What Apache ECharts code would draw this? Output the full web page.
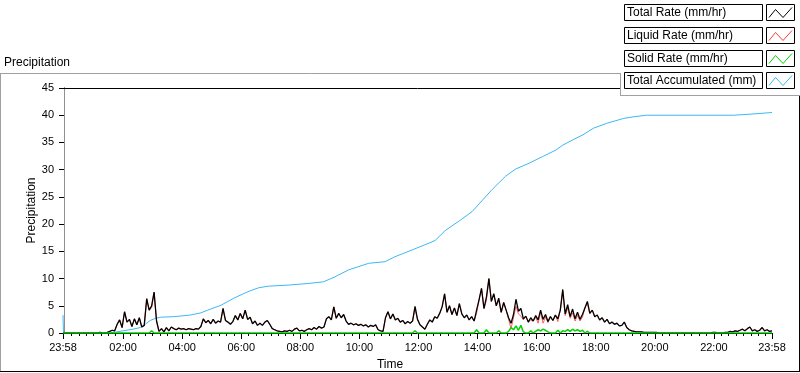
<!DOCTYPE html>
<html><head><meta charset="utf-8">
<script src="https://cdn.jsdelivr.net/npm/echarts@6/dist/echarts.min.js"></script>
<style>html,body{margin:0;padding:0;background:#fff}#c{width:800px;height:373px}</style>
</head><body><div id="c"></div>
<script>
// ---------- data ----------
const seriesNames = ['Total Rate (mm/hr)', 'Liquid Rate (mm/hr)', 'Solid Rate (mm/hr)', 'Total Accumulated (mm)'];
const seriesColors = ['#000000', '#ff3a3a', '#00d400', '#3db8f2'];

// x tick positions in minutes from midnight (start is 23:58 of the previous day)
const tickValues = [-2, 120, 240, 360, 480, 600, 720, 840, 960, 1080, 1200, 1320, 1438];
const tickLabels = ['23:58', '02:00', '04:00', '06:00', '08:00', '10:00', '12:00', '14:00', '16:00', '18:00', '20:00', '22:00', '23:58'];

// rates sampled every 5 minutes starting at 23:58 (one row per hour)
const totalRate = [
  0,0,0,0,0,0,0,0,0,0,0,0,
  0,0,0,0.1,0,0,0.1,0.3,0.5,0.4,1.6,2.4,
  1.0,3.9,2.0,2.5,1.2,2.6,1.5,2.8,1.1,1.4,6.3,4.2,
  5.0,7.5,2.2,0.3,0.8,0.2,1.0,0.4,1.1,0.8,0.6,0.9,
  0.7,0.8,0.6,0.8,0.7,0.6,0.8,0.7,1.2,2.6,1.9,2.3,
  1.7,2.5,1.8,2.2,2.0,4.5,2.3,2.0,1.6,2.1,3.2,2.4,
  3.6,2.6,4.2,2.5,2.9,1.7,2.2,1.4,1.8,1.4,2.0,2.3,
  1.6,0.8,0.6,0.4,0.3,0.2,0.4,0.3,0.5,0.3,0.7,0.9,
  0.4,0.5,0.3,0.6,0.8,0.6,1.0,0.7,1.2,0.9,1.1,2.6,
  3.0,2.4,4.8,2.7,3.6,2.8,3.4,2.2,1.6,1.8,1.5,1.7,
  1.4,1.6,1.3,1.5,1.1,1.4,1.2,1.5,0.6,0.4,0.3,2.8,
  3.9,2.6,3.5,2.4,2.7,2.0,2.3,1.7,2.1,1.8,2.2,4.9,
  2.5,1.5,1.1,0.7,1.6,2.4,2.0,3.0,2.7,3.6,4.8,7.2,
  3.8,5.0,3.4,4.6,3.2,5.4,3.5,2.8,3.3,2.4,3.0,2.2,
  4.2,6.1,8.2,4.5,6.6,10.0,5.8,7.2,5.0,6.4,3.8,5.6,
  4.2,2.8,1.8,3.4,6.2,4.0,4.5,2.6,3.1,2.0,2.8,2.2,
  3.2,2.4,4.2,2.5,3.4,2.1,3.0,2.3,3.3,2.6,4.2,8.0,
  3.5,5.2,3.0,4.4,2.6,3.8,2.5,3.4,4.6,5.8,3.6,4.2,
  3.0,3.3,2.4,2.8,2.0,2.5,1.7,2.0,1.6,1.8,1.3,1.4,
  2.0,1.0,0.6,0.4,0.3,0.2,0.2,0.2,0.1,0.1,0.1,0.1,
  0.1,0.1,0,0,0,0,0,0,0,0,0,0,
  0,0,0,0,0,0,0,0,0,0,0,0,
  0.1,0.1,0,0,0,0.1,0.1,0.3,0.2,0.4,0.3,0.5,
  0.7,0.4,0.8,1.1,0.4,0.6,0.3,0.5,1.0,0.4,0.6,0.3,
  0.4
];
const liquidRate = [
  0,0,0,0,0,0,0,0,0,0,0,0,
  0,0,0,0.1,0,0,0.1,0.3,0.5,0.4,1.6,2.4,
  1.0,3.9,2.0,2.5,1.2,2.6,1.5,2.8,1.1,1.4,6.3,4.2,
  4.6,7.5,2.2,0.3,0.8,0.2,1.0,0.4,1.1,0.8,0.6,0.9,
  0.7,0.8,0.6,0.8,0.7,0.6,0.8,0.7,1.2,2.6,1.9,2.3,
  1.7,2.5,1.8,2.2,2.0,4.5,2.3,2.0,1.6,2.1,3.2,2.4,
  3.6,2.6,4.2,2.5,2.9,1.7,2.2,1.4,1.8,1.4,2.0,2.3,
  1.6,0.8,0.6,0.4,0.3,0.2,0.4,0.3,0.5,0.3,0.7,0.9,
  0.4,0.5,0.3,0.6,0.8,0.6,1.0,0.7,1.2,0.9,1.1,2.6,
  3.0,2.4,4.8,2.7,3.6,2.8,3.4,2.2,1.6,1.8,1.5,1.7,
  1.4,1.6,1.3,1.5,1.1,1.4,1.2,1.5,0.6,0.4,0.3,2.8,
  3.9,2.6,3.5,2.4,2.7,2.0,2.3,1.7,2.1,1.8,2.2,4.5,
  2.5,1.5,1.1,0.7,1.6,2.4,2.0,3.0,2.7,3.6,4.8,7.2,
  3.8,5.0,3.4,4.6,3.2,5.4,3.5,2.8,3.3,2.4,3.0,2.2,
  3.6,6.1,8.2,4.5,6.0,10.0,5.8,7.2,5.0,6.0,3.8,5.6,
  4.2,2.5,0.8,2.8,4.9,3.5,3.1,2.4,3.1,2.0,2.4,2.2,
  2.9,1.8,3.8,1.8,2.9,1.9,3.0,2.3,3.3,2.1,4.2,7.6,
  3.2,4.6,2.7,3.7,2.2,3.2,2.2,2.9,4.6,5.5,3.6,4.2,
  3.0,3.3,2.4,2.8,2.0,2.5,1.7,2.0,1.6,1.8,1.3,1.4,
  2.0,1.0,0.6,0.4,0.3,0.2,0.2,0.2,0.1,0.1,0.1,0.1,
  0.1,0.1,0,0,0,0,0,0,0,0,0,0,
  0,0,0,0,0,0,0,0,0,0,0,0,
  0.1,0.1,0,0,0,0.1,0.1,0.3,0.2,0.4,0.3,0.5,
  0.7,0.4,0.8,1.1,0.4,0.6,0.3,0.5,1.0,0.4,0.6,0.3,
  0.4
];
const solidRate = [
  0,0,0,0,0,0,0,0,0,0,0,0,
  0,0,0,0,0,0,0,0,0,0,0,0,
  0,0,0,0,0,0,0,0,0,0,0,0,
  0.4,0,0,0,0,0,0,0,0,0,0,0,
  0,0,0,0,0,0,0,0,0,0,0,0,
  0,0,0,0,0,0,0,0,0,0,0,0,
  0,0,0,0,0,0,0,0,0,0,0,0,
  0,0,0,0,0,0,0,0,0,0,0,0,
  0,0,0,0,0,0,0,0,0,0,0,0,
  0,0,0,0,0,0,0,0,0,0,0,0,
  0,0,0,0,0,0,0,0,0,0,0,0,
  0,0,0,0,0,0,0,0,0,0,0,0.4,
  0,0,0,0,0,0,0,0,0,0,0,0,
  0,0,0,0,0,0,0,0,0,0,0,0,
  0.6,0,0,0,0.6,0,0,0,0,0.4,0,0,
  0,0.3,1.0,0.6,1.3,0.5,1.4,0.2,0,0,0.4,0,
  0.3,0.6,0.4,0.7,0.5,0.2,0,0,0,0.5,0,0.4,
  0.3,0.6,0.3,0.7,0.4,0.6,0.3,0.5,0,0.3,0,0,
  0,0,0,0,0,0,0,0,0,0,0,0,
  0,0,0,0,0,0,0,0,0,0,0,0,
  0,0,0,0,0,0,0,0,0,0,0,0,
  0,0,0,0,0,0,0,0,0,0,0,0,
  0,0,0,0,0,0,0,0,0,0,0,0,
  0,0,0,0,0,0,0,0,0,0,0,0,
  0
];
// accumulated total, read at its own time points (minutes from midnight)
const accMinutes = [-2,-1,90,100,120,140,155,165,175,186,196,223,257,278,292,319,345,374,395,415,456,496,527,550,578,619,652,672,686,711,733,754,774,803,829,850,870,897,917,945,972,999,1013,1034,1054,1075,1102,1136,1156,1183,1360,1362,1395,1397,1438];
const accValues  = [3.3,0,0,0.1,0.4,0.7,1.0,1.6,2.3,2.7,2.9,3.0,3.3,3.7,4.2,5.1,6.4,7.6,8.3,8.6,8.8,9.1,9.4,10.3,11.6,12.8,13.1,14.0,14.5,15.4,16.2,17.0,18.8,20.6,22.3,24.4,26.4,28.8,30.1,31.2,32.4,33.6,34.5,35.5,36.4,37.6,38.5,39.4,39.7,40.0,40.0,40.2,40.2,40.5,40.5];

// 5-minute sampling grid for the rate series
const rateMinutes = totalRate.map((_, i) => -2 + 5 * i);
// minor tick positions every 15 minutes
const minorTickValues = [];
for (let m = 15; m < 1438; m += 15) if (m % 120 !== 0) minorTickValues.push(m);

// ---------- chart ----------
const FONT = 'Liberation Sans, Arial, sans-serif';
const chart = echarts.init(document.getElementById('c'), null, {renderer: 'canvas'});

const pair = (xs, ys) => xs.map((x, i) => [x, ys[i]]);
const lineSeries = (idx, data, z, width) => ({
  name: seriesNames[idx], type: 'line', data, z,
  showSymbol: false, symbol: 'none', animation: false,
  lineStyle: {color: seriesColors[idx], width: width},
  itemStyle: {color: seriesColors[idx]},
  emphasis: {disabled: true}
});

// legend drawn as LabVIEW-style boxes, built from the series names/colours
const legendEls = [];
legendEls.push({type: 'rect', shape: {x: 620, y: 0, width: 180, height: 95}, style: {fill: '#fff'}, z: 100});
legendEls.push({type: 'line', shape: {x1: 620.5, y1: 73, x2: 620.5, y2: 96}, style: {stroke: '#a0a0a0', lineWidth: 1}, z: 101});
legendEls.push({type: 'line', shape: {x1: 620, y1: 95.5, x2: 800, y2: 95.5}, style: {stroke: '#a0a0a0', lineWidth: 1}, z: 101});
seriesNames.forEach((name, k) => {
  const top = Math.round(4 + 22.8 * k) + 0.5;
  legendEls.push({type: 'rect', shape: {x: 624.5, y: top, width: 138, height: 16}, style: {fill: '#fff', stroke: '#000', lineWidth: 1}, z: 102});
  legendEls.push({type: 'text', x: 627, y: top + 8.5, style: {text: name, font: '12px ' + FONT, fill: '#000', verticalAlign: 'middle', align: 'left'}, z: 103});
  legendEls.push({type: 'rect', shape: {x: 766.5, y: top, width: 28, height: 16}, style: {fill: '#fff', stroke: '#000', lineWidth: 1}, z: 102});
  legendEls.push({type: 'polyline', shape: {points: [[769, top + 13], [775.5, top + 5], [783, top + 13], [792, top + 3]]}, style: {stroke: seriesColors[k], lineWidth: 1, fill: null}, z: 103});
});

const option = {
  animation: false,
  backgroundColor: '#fff',
  textStyle: {fontFamily: FONT},
  grid: {left: 63, right: 28, top: 88, bottom: 40, show: false, containLabel: false, outerBoundsMode: 'none'},
  xAxis: [{
    type: 'value', min: -2, max: 1438, position: 'bottom',
    name: 'Time', nameLocation: 'middle', nameGap: 26, nameMoveOverlap: false,
    nameTextStyle: {color: '#000', fontSize: 12, fontFamily: FONT, padding: [0, 55, 0, 0]},
    axisLine: {show: true, lineStyle: {color: '#000', width: 1}},
    axisTick: {show: true, customValues: tickValues, length: 6, lineStyle: {color: '#000'}},
    axisLabel: {show: true, customValues: tickValues, margin: 9, color: '#000', fontSize: 11, fontFamily: FONT,
      formatter: v => tickLabels[tickValues.indexOf(v)] ?? ''},
    splitLine: {show: false}
  }, {
    type: 'value', min: -2, max: 1438, position: 'bottom',
    axisLine: {show: false},
    axisTick: {show: true, customValues: minorTickValues, length: 3, lineStyle: {color: '#000'}},
    axisLabel: {show: false},
    splitLine: {show: false}
  }, {
    type: 'value', min: -2, max: 1438, position: 'top',
    axisLine: {show: true, lineStyle: {color: '#000', width: 1}},
    axisTick: {show: false}, axisLabel: {show: false}, splitLine: {show: false}
  }],
  yAxis: [{
    type: 'value', min: 0, max: 45, interval: 5, position: 'left',
    name: 'Precipitation', nameLocation: 'middle', nameGap: 25, nameRotate: 90, nameMoveOverlap: false,
    nameTextStyle: {color: '#000', fontSize: 12, fontFamily: FONT},
    axisLine: {show: true, lineStyle: {color: '#000', width: 1}},
    axisTick: {show: true, length: 5, lineStyle: {color: '#000'}},
    axisLabel: {margin: 9, color: '#000', fontSize: 11, fontFamily: FONT},
    splitLine: {show: false}
  }, {
    type: 'value', min: 0, max: 45, interval: 5, position: 'right',
    axisLine: {show: true, lineStyle: {color: '#909090', width: 1}},
    axisTick: {show: false}, axisLabel: {show: false}, splitLine: {show: false}
  }],
  series: [
    lineSeries(3, pair(accMinutes, accValues), 1, 1),
    lineSeries(1, pair(rateMinutes, liquidRate), 2, 0.8),
    lineSeries(0, pair(rateMinutes, totalRate), 3, 1.3),
    lineSeries(2, pair(rateMinutes, solidRate), 4, 1.5)
  ],
  graphic: {elements: [
    {type: 'text', x: 4, y: 63, style: {text: 'Precipitation', font: '12px ' + FONT, fill: '#000', verticalAlign: 'middle'}},
    {type: 'line', shape: {x1: 0, y1: 73.5, x2: 621, y2: 73.5}, style: {stroke: '#a0a0a0', lineWidth: 1}},
    {type: 'line', shape: {x1: 0.5, y1: 73, x2: 0.5, y2: 372}, style: {stroke: '#a0a0a0', lineWidth: 1}},
    {type: 'line', shape: {x1: 0, y1: 371.5, x2: 800, y2: 371.5}, style: {stroke: '#000', lineWidth: 1}},
    {type: 'line', shape: {x1: 799.5, y1: 95, x2: 799.5, y2: 372}, style: {stroke: '#000', lineWidth: 1}},
    ...legendEls
  ]}
};
chart.setOption(option);
</script>
</body></html>
